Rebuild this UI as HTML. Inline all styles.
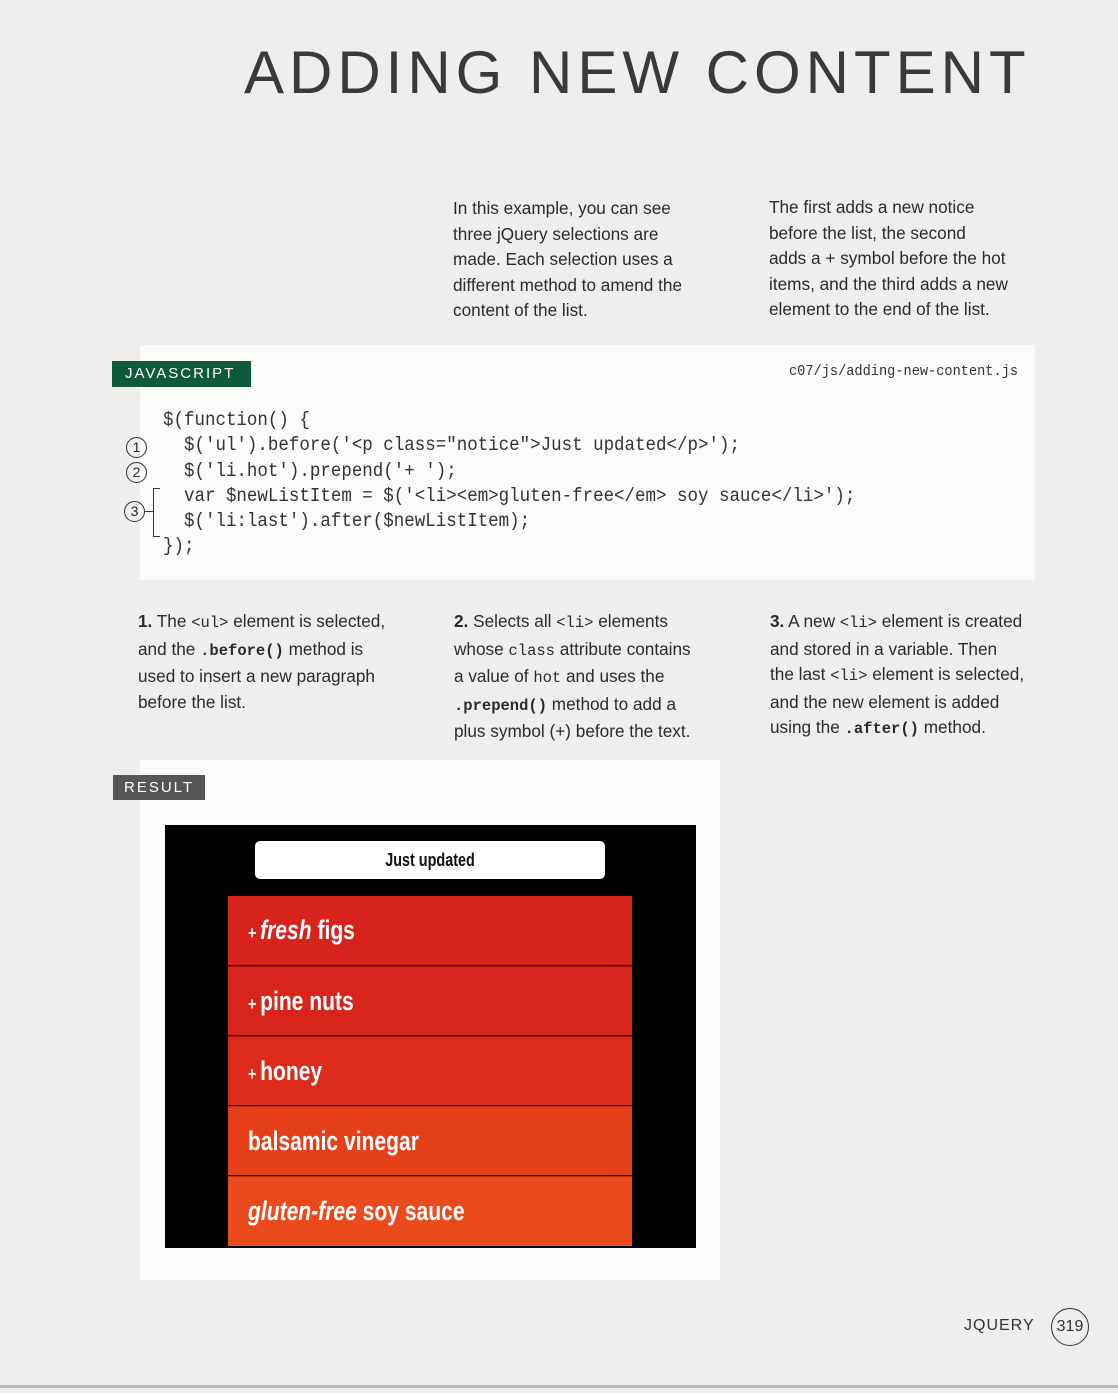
<!DOCTYPE html>
<html><head><meta charset="utf-8"><style>
*{margin:0;padding:0;box-sizing:border-box}
body{width:1118px;height:1393px;background:#efeeec;position:relative;overflow:hidden;font-family:"Liberation Sans",sans-serif;color:#2a2a2a}
.a{position:absolute}
.p{font-size:17.2px;line-height:25.5px;color:#2b2b2b;white-space:nowrap}
.code{font-family:"Liberation Mono",monospace;font-size:19px;line-height:25.3px;color:#333;white-space:pre;transform:scaleX(0.92);transform-origin:left}
.c{font-family:"Liberation Mono",monospace;font-size:15.5px}
.row{position:absolute;left:228px;width:404px;height:69px;color:#fff;font-family:"Liberation Sans Narrow","Liberation Sans",sans-serif;font-weight:bold;font-size:27px;padding-left:20px;line-height:69px}
.row span.t{display:inline-block;transform:scaleX(0.78);transform-origin:left}
.circ{position:absolute;width:21px;height:21px;border:1.5px solid #333;border-radius:50%;font-size:14px;text-align:center;line-height:18px}
</style></head><body>
<div class="a" style="left:140px;top:345px;width:895px;height:235px;background:#fbfbfa"></div>
<div class="a" style="left:140px;top:760px;width:580px;height:520px;background:#fbfbfa"></div>
<div class="a" style="left:244px;top:38px;font-size:60px;letter-spacing:5px;color:#3a3a3a;font-weight:normal;white-space:nowrap">ADDING NEW CONTENT</div>
<div class="a p" style="left:453px;top:196px">In this example, you can see<br>three jQuery selections are<br>made. Each selection uses a<br>different method to amend the<br>content of the list.</div>
<div class="a p" style="left:769px;top:195px">The first adds a new notice<br>before the list, the second<br>adds a + symbol before the hot<br>items, and the third adds a new<br>element to the end of the list.</div>
<div class="a" style="left:112px;top:361px;width:139px;height:26px;background:#0f5a3c;color:#fff;font-size:15px;letter-spacing:2px;line-height:26px;padding-left:13px">JAVASCRIPT</div>
<div class="a c" style="left:789px;top:364px;font-size:14.5px;color:#333;transform:scaleX(0.94);transform-origin:left">c07/js/adding-new-content.js</div>
<div class="a code" style="left:163px;top:408px">$(function() {
  $('ul').before('&lt;p class="notice"&gt;Just updated&lt;/p&gt;');
  $('li.hot').prepend('+ ');
  var $newListItem = $('&lt;li&gt;&lt;em&gt;gluten-free&lt;/em&gt; soy sauce&lt;/li&gt;');
  $('li:last').after($newListItem);
});</div>
<div class="circ" style="left:126px;top:437px">1</div>
<div class="circ" style="left:126px;top:462px">2</div>
<div class="circ" style="left:124px;top:501px">3</div>
<div class="a" style="left:145px;top:511px;width:8px;border-top:1.5px solid #333"></div>
<div class="a" style="left:153px;top:488px;width:7px;height:49px;border:1.5px solid #333;border-right:none"></div>
<div class="a p" style="left:138px;top:609px"><b>1.</b> The <span class="c">&lt;ul&gt;</span> element is selected,<br>and the <b class="c">.before()</b> method is<br>used to insert a new paragraph<br>before the list.</div>
<div class="a p" style="left:454px;top:609px"><b>2.</b> Selects all <span class="c">&lt;li&gt;</span> elements<br>whose <span class="c">class</span> attribute contains<br>a value of <span class="c">hot</span> and uses the<br><b class="c">.prepend()</b> method to add a<br>plus symbol (+) before the text.</div>
<div class="a p" style="left:770px;top:609px"><b>3.</b> A new <span class="c">&lt;li&gt;</span> element is created<br>and stored in a variable. Then<br>the last <span class="c">&lt;li&gt;</span> element is selected,<br>and the new element is added<br>using the <b class="c">.after()</b> method.</div>
<div class="a" style="left:113px;top:775px;width:92px;height:25px;background:#555;color:#fff;font-size:15px;letter-spacing:2px;line-height:25px;padding-left:11px">RESULT</div>
<div class="a" style="left:165px;top:825px;width:531px;height:423px;background:#000"></div>
<div class="a" style="left:255px;top:841px;width:350px;height:38px;background:#fff;border-radius:5px;text-align:center;line-height:38px;font-weight:bold;font-size:18px;color:#111"><span style="display:inline-block;transform:scaleX(0.8)">Just updated</span></div>
<div class="row" style="top:896px;background:#d8231d"><span class="t"><span style="font-size:18px">+ </span><i>fresh</i> figs</span></div>
<div class="row" style="top:966px;background:#d9241c;border-top:1px solid #a01510"><span class="t"><span style="font-size:18px">+ </span>pine nuts</span></div>
<div class="row" style="top:1036px;background:#dd2a1a;border-top:1px solid #a01510"><span class="t"><span style="font-size:18px">+ </span>honey</span></div>
<div class="row" style="top:1106px;background:#e6401b;border-top:1px solid #b02a10"><span class="t">balsamic vinegar</span></div>
<div class="row" style="top:1176px;height:70px;background:#eb4a1d;border-top:1px solid #b83210"><span class="t"><i>gluten-free</i> soy sauce</span></div>
<div class="a" style="left:964px;top:1317px;font-size:16px;letter-spacing:1px;color:#333">JQUERY</div>
<div class="a" style="left:1051px;top:1308px;width:38px;height:38px;border:1.5px solid #333;border-radius:50%;text-align:center;line-height:35px;font-size:16px;color:#333">319</div>
<div class="a" style="left:0;top:1385px;width:1118px;height:3px;background:#bbb"></div>
</body></html>
